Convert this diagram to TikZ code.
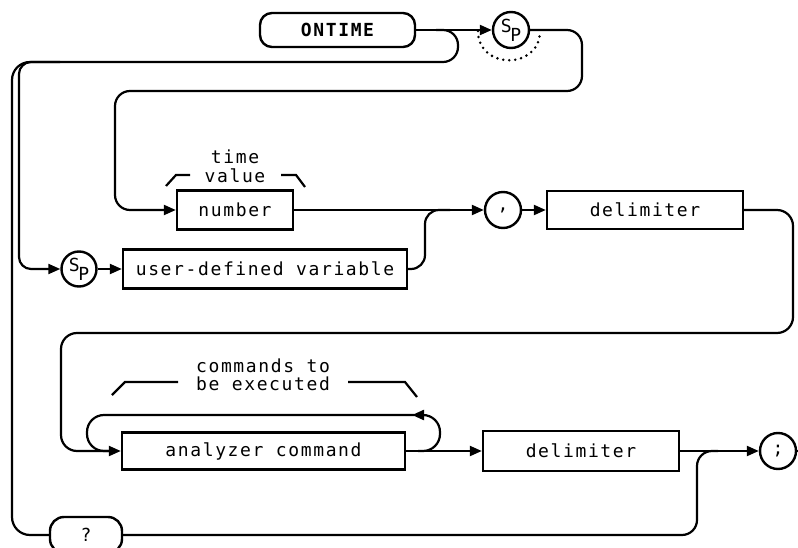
\documentclass[tikz,border=0pt]{standalone}
\usepackage{fontspec}
\usetikzlibrary{arrows.meta}
\newfontfamily\hpfont[LetterSpace=9]{DejaVu Sans Mono}
\newfontfamily\spfont{DejaVu Sans Mono}
\newcommand\hpf{\hpfont\fontsize{18pt}{20pt}\selectfont}
\newcommand\hpbf{\hpfont\bfseries\fontsize{18pt}{20pt}\selectfont}
\newcommand\spsym{{\spfont\fontsize{18pt}{18pt}\selectfont\raisebox{4pt}{S}\kern-1.5pt\raisebox{-5pt}{P}}}
\tikzset{
  conn/.style={line width=2.2pt, rounded corners=15pt},
  arr/.style={conn, -{Triangle[length=12pt,width=10pt]}},
  box/.style={draw, rectangle, line width=2.4pt, inner sep=0pt, font=\hpf},
  rbox/.style={box, rounded corners=12pt},
  circ/.style={draw, circle, line width=2.4pt, inner sep=0pt, minimum size=36pt, font=\hpf},
  lbl/.style={inner sep=0pt, anchor=base, font=\hpf},
  brk/.style={line width=2.2pt},
  dotline/.style={line width=2.8pt, line cap=round, dash pattern=on 0pt off 6pt}
}
\begin{document}
\begin{tikzpicture}[x=1pt,y=-1pt]
\useasboundingbox (0,0) rectangle (798,548);
% nodes
\node[rbox, minimum width=155pt, minimum height=34pt, font=\hpbf] (ontime) at (337.5,30) {ONTIME};
\node[circ] (sp1) at (511,30) {\spsym};
\node[box, minimum width=116pt, minimum height=39pt] (number) at (235,210) {number};
\node[box, minimum width=284pt, minimum height=39pt] (udv) at (265,269) {user-defined variable};
\node[circ, minimum size=35pt] (sp2) at (79,269) {\spsym};
\node[circ] (comma) at (503,210) {,};
\node[box, minimum width=196pt, minimum height=38pt] (delima) at (645,210) {delimiter};
\node[box, minimum width=283pt, minimum height=37pt] (cmd) at (263.5,451) {analyzer command};
\node[box, minimum width=196pt, minimum height=40pt] (delimb) at (581,451) {delimiter};
\node[circ] (semi) at (778,451) {;};
\node[rbox, minimum width=72pt, minimum height=36pt, rounded corners=14pt] (qbox) at (86,535) {?};
% labels
\node[lbl] (ttime) at (235,164) {time};
\node[lbl] (tvalue) at (235,183) {value};
\node[lbl] (tcmda) at (263,372) {commands to};
\node[lbl] (tcmdb) at (263,390) {be executed};
\draw[brk] (166,186) -- (176,175) -- (190,175);
\draw[brk] (281,175) -- (296,175) -- (305,187);
\draw[brk] (112,395) -- (125,382) -- (178,382);
\draw[brk] (348,382) -- (405,382) -- (417,397);
% coordinates
\coordinate (bra) at (436,30);
\coordinate (dsa) at (478,31);
\coordinate (dsb) at (540,31);
\coordinate (mga) at (450,210);
\coordinate (lpa) at (418,451);
\coordinate (lpb) at (412,415);
\coordinate (lpc) at (116,451);
\coordinate (mgb) at (718,451);
\coordinate (stub) at (800,451);
% connectors
\draw[arr] (ontime.east) -- (sp1.west);
\draw[dotline] (dsa) .. controls (478,70) and (540,70) .. (dsb);
\draw[conn] (bra) -- (458,30) -- (458,62) [rounded corners=18pt] -- (12,62) -- (12,535) [rounded corners=15pt] -{Triangle[length=12pt,width=10pt]} (qbox.west);
\draw[arr, rounded corners=12pt] (60,62) -- (19,62) -- (19,269) -- (sp2.west);
\draw[arr] (sp1.east) -- (582,30) -- (582,91) -- (115,91) -- (115,210) -- (number.west);
\draw[arr] (number.east) -- (comma.west);
\draw[arr] (sp2.east) -- (udv.west);
\draw[conn, rounded corners=14pt] (udv.east) -- (425,269) -- (425,210) -- (mga);
\draw[arr] (comma.east) -- (delima.west);
\draw[arr, rounded corners=16pt] (delima.east) -- (793,210) -- (793,333) -- (61,333) -- (61,451) -- (cmd.west);
\draw[arr, rounded corners=17pt] (lpa) -- (440,451) -- (440,415) -- (lpb);
\draw[conn, rounded corners=17pt] (414,415) -- (87,415) -- (87,451) -- (lpc);
\draw[arr] (cmd.east) -- (delimb.west);
\draw[arr] (delimb.east) -- (semi.west);
\draw[conn] (qbox.east) -- (697,535) -- (697,451) -- (mgb);
\draw[conn] (semi.east) -- (stub);
\end{tikzpicture}
\end{document}
